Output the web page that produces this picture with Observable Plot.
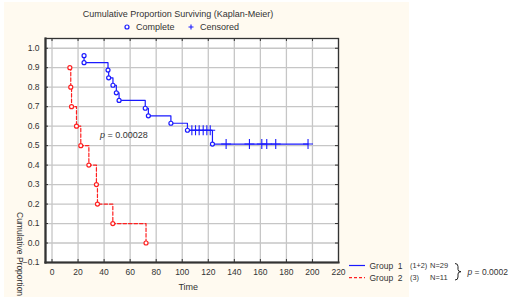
<!DOCTYPE html>
<html>
<head>
<meta charset="utf-8">
<script src="https://cdn.jsdelivr.net/npm/d3@7"></script>
<script src="https://cdn.jsdelivr.net/npm/@observablehq/plot@0.6"></script>
<style>
  html, body { margin: 0; padding: 0; background: #ffffff; overflow: hidden; }
  #chart svg { display: block; }
</style>
</head>
<body>
<div id="chart"></div>
<script>
// ---- Data ----
const xTicks = [0, 20, 40, 60, 80, 100, 120, 140, 160, 180, 200, 220];
const yTicks = [-0.1, 0.0, 0.1, 0.2, 0.3, 0.4, 0.5, 0.6, 0.7, 0.8, 0.9, 1.0];

// Group 1 (1+2), N=29 : complete (event) times and survival
const g1Times = [24.6, 24.6, 43.0, 43.5, 46.8, 49.4, 51.5, 71.6, 74.0, 91.3, 104.0, 123.2];
const g1Surv  = [0.962, 0.926, 0.888, 0.848, 0.810, 0.771, 0.732, 0.692, 0.653, 0.615, 0.579, 0.508];
// Group 1 censored times and survival level at censoring
const g1CensTimes = [107.4, 110.2, 113.0, 116.1, 118.9, 121.5, 133.7, 151.6, 161.1, 164.9, 171.8, 196.6];
const g1CensSurv  = [0.579, 0.579, 0.579, 0.579, 0.579, 0.579, 0.508, 0.508, 0.508, 0.508, 0.508, 0.508];

// Group 2 (3), N=11 : complete (event) times and survival
const g2Times = [13.7, 14.4, 15.0, 18.8, 22.1, 28.3, 34.1, 34.9, 46.7, 72.2];
const g2Surv  = [0.9, 0.8, 0.7, 0.6, 0.5, 0.4, 0.3, 0.2, 0.1, 0.0];

const pAnnot = {time: 37.2, surv: 0.55, value: "0.00028"};
const legendGroups = ["Group  1", "Group  2"];
const legendSub = ["(1+2)", "(3)"];
const legendN = ["N=29", "N=11"];
const pGroups = "0.0002";

// ---- Derived tables ----
const g1Complete = g1Times.map((t, i) => ({t, s: g1Surv[i]}));
const g1Cens = g1CensTimes.map((t, i) => ({t, s: g1CensSurv[i]}));
const g1Path = [...g1Complete, ...g1Cens].sort((a, b) => a.t - b.t || b.s - a.s);
const g2Complete = g2Times.map((t, i) => ({t, s: g2Surv[i]}));

const BLUE = "#1a1aff";
const RED = "#ff2020";
const GRID = "#c6c6c6";
const AX = "#333333";
const plotW = 510 - 45 - 172;
const plotH = 303 - 38 - 41;

const svg = Plot.plot({
  width: 510,
  height: 303,
  marginLeft: 45,
  marginRight: 172,
  marginTop: 38,
  marginBottom: 41,
  x: {domain: [-5, 220], label: null},
  y: {domain: [-0.1, 1.05], label: null},
  style: {fontFamily: "'Liberation Sans', Arial, sans-serif", fontSize: "8.5px", color: AX, background: "transparent", overflow: "visible"},
  marks: [
    Plot.frame({fill: "white", stroke: "none"}),
    Plot.gridX(xTicks, {stroke: GRID, strokeOpacity: 1, strokeWidth: 1.3}),
    Plot.gridY(yTicks, {stroke: GRID, strokeOpacity: 1, strokeWidth: 1.3}),
    Plot.axisX(xTicks, {tickSize: 0, tickPadding: 6, label: null, fill: AX}),
    Plot.axisY(yTicks, {tickSize: 0, tickPadding: 6, label: null, fill: AX, tickFormat: d3.format(".1f")}),
    // inward ticks on all four sides
    Plot.tickY(yTicks, {y: d => d, stroke: AX, insetRight: plotW - 3}),
    Plot.tickY(yTicks, {y: d => d, stroke: AX, insetLeft: plotW - 3}),
    Plot.tickX(xTicks, {x: d => d, stroke: AX, insetTop: plotH - 3}),
    Plot.tickX(xTicks, {x: d => d, stroke: AX, insetBottom: plotH - 3}),
    Plot.frame({stroke: AX, strokeWidth: 1.3}),
    Plot.frame({anchor: "left", stroke: AX, strokeWidth: 2.2}),
    Plot.frame({anchor: "bottom", stroke: AX, strokeWidth: 2.2}),
    // Group 2 (red dashed)
    Plot.line(g2Complete, {x: "t", y: "s", curve: "step-after", stroke: RED, strokeWidth: 1.2, strokeDasharray: "3.5,2"}),
    Plot.dot(g2Complete, {x: "t", y: "s", r: 2, stroke: RED, fill: "white", strokeWidth: 1.2}),
    // Group 1 (blue solid)
    Plot.line(g1Path, {x: "t", y: "s", curve: "step-after", stroke: BLUE, strokeWidth: 1.2}),
    Plot.dot(g1Cens, {x: "t", y: "s", symbol: "plus", r: 3.3, stroke: BLUE, strokeWidth: 1.1}),
    Plot.dot(g1Complete, {x: "t", y: "s", r: 2, stroke: BLUE, fill: "white", strokeWidth: 1.2})
  ]
});

const s = d3.select(svg);
const xs = svg.scale("x"), ys = svg.scale("y");
const FONT = "'Liberation Sans', Arial, sans-serif";

// cream background panel
s.insert("rect", ":first-child")
  .attr("x", 4).attr("y", 2).attr("width", 405).attr("height", 295)
  .attr("fill", "#fffaf0");

function txt(x, y, str, size, anchor = "start") {
  return s.append("text").attr("x", x).attr("y", y)
    .attr("font-family", FONT).attr("font-size", size)
    .attr("fill", AX).attr("text-anchor", anchor).text(str);
}

// title
txt(178, 16.5, "Cumulative Proportion Surviving (Kaplan-Meier)", 9, "middle");
// top legend
s.append("circle").attr("cx", 127).attr("cy", 27).attr("r", 2)
  .attr("fill", "white").attr("stroke", BLUE).attr("stroke-width", 1.2);
txt(136, 30.2, "Complete", 9);
s.append("path").attr("d", "M191,24.5V29.5M188.5,27H193.5").attr("stroke", BLUE).attr("stroke-width", 1.1);
txt(200, 30.2, "Censored", 9);

// axis titles
txt(xs.apply(105), 290, "Time", 9, "middle");
s.append("text").attr("transform", "translate(17,212) rotate(90)")
  .attr("font-family", FONT).attr("font-size", 8.5).attr("fill", AX)
  .attr("text-anchor", "start")
  .text("Cumulative Proportion");

// p-value annotation in plot
const pa = s.append("text").attr("x", xs.apply(pAnnot.time)).attr("y", ys.apply(pAnnot.surv) + 3)
  .attr("font-family", FONT).attr("font-size", 9).attr("fill", AX).attr("text-anchor", "start");
pa.append("tspan").attr("font-style", "italic").text("p");
pa.append("tspan").text(" = " + pAnnot.value);

// bottom-right group legend
const rowY = [265.5, 277.7];
s.append("line").attr("x1", 349).attr("x2", 365).attr("y1", rowY[0]).attr("y2", rowY[0])
  .attr("stroke", BLUE).attr("stroke-width", 1.2);
s.append("line").attr("x1", 349).attr("x2", 365).attr("y1", rowY[1]).attr("y2", rowY[1])
  .attr("stroke", RED).attr("stroke-width", 1.2).attr("stroke-dasharray", "3,2");
legendGroups.forEach((g, i) => {
  txt(369.5, rowY[i] + 3, g, 8.5).style("white-space", "pre");
  txt(410, rowY[i] + 2.5, legendSub[i], 7.3);
  txt(430, rowY[i] + 2.7, legendN[i], 7.5);
});
s.append("path").attr("d", "M455,263.5Q458,263.5 458,266.5V269.5Q458,271.7 461,271.7Q458,271.7 458,274V277Q458,280 455,280")
  .attr("fill", "none").attr("stroke", "#222").attr("stroke-width", 1);
const pg = s.append("text").attr("x", 467.5).attr("y", 274.7)
  .attr("font-family", FONT).attr("font-size", 8.5).attr("fill", AX).attr("text-anchor", "start");
pg.append("tspan").attr("font-style", "italic").text("p");
pg.append("tspan").text(" = " + pGroups);

document.getElementById("chart").appendChild(svg);
</script>
</body>
</html>
